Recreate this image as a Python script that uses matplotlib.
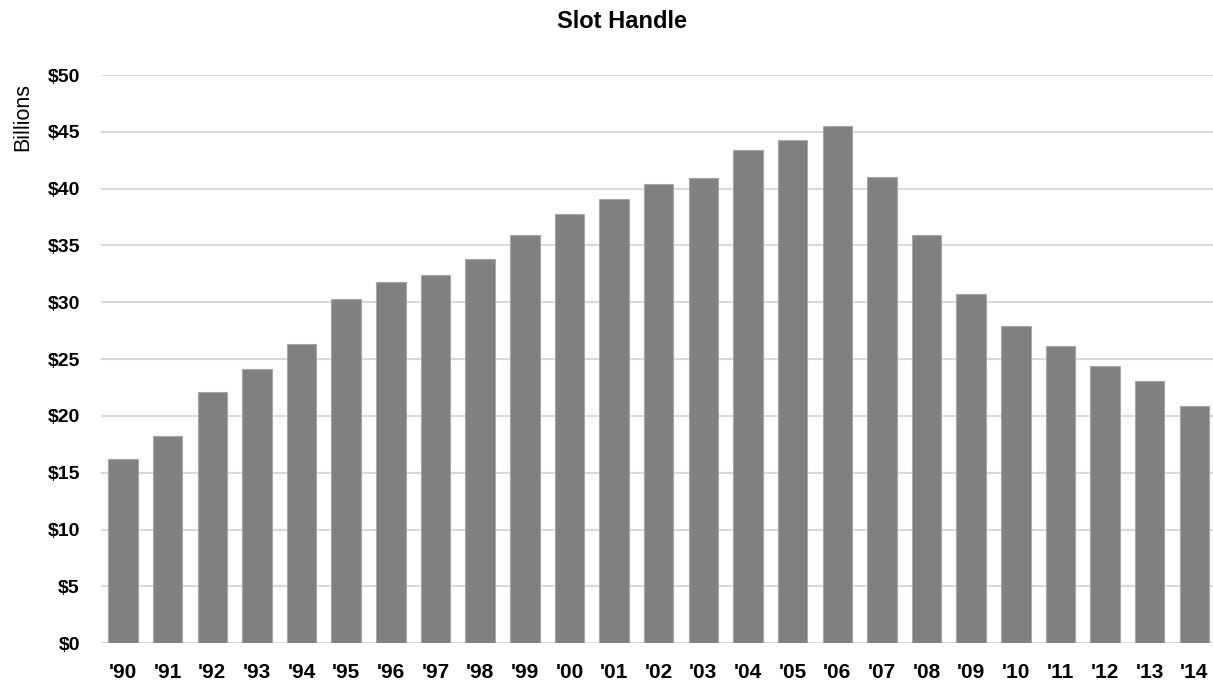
import matplotlib
matplotlib.use("Agg")
import matplotlib.pyplot as plt
from matplotlib.ticker import MultipleLocator, FuncFormatter

# data (billions of dollars)
years = ["'90", "'91", "'92", "'93", "'94", "'95", "'96", "'97", "'98", "'99",
         "'00", "'01", "'02", "'03", "'04", "'05", "'06", "'07", "'08", "'09",
         "'10", "'11", "'12", "'13", "'14"]
handle = [16.2, 18.2, 22.1, 24.1, 26.3, 30.3, 31.8, 32.4, 33.8, 35.9,
          37.8, 39.1, 40.4, 40.9, 43.4, 44.3, 45.5, 41.0, 35.9, 30.7,
          27.9, 26.2, 24.4, 23.1, 20.9]

plt.rcParams['font.family'] = ['Liberation Sans Narrow', 'Liberation Sans', 'DejaVu Sans']

fig = plt.figure(figsize=(12.13, 6.9), dpi=100)
ax = fig.add_axes([100.7 / 1213, 1 - 643.3 / 690, 1116 / 1213, 568.3 / 690])

x = range(len(years))
ax.bar(x, handle, width=0.66, color='#808080', edgecolor='#a6a6a6', linewidth=0.8, zorder=3)

ax.set_xlim(-0.5, len(years) - 0.5)
ax.set_ylim(0, 50)
ax.yaxis.set_major_locator(MultipleLocator(5))
ax.yaxis.set_major_formatter(FuncFormatter(lambda v, p: f"${v:.0f}"))
ax.set_xticks(list(x))
ax.set_xticklabels(years)

ax.grid(axis='y', color='#d9d9d9', linewidth=1.5, zorder=0)
for s in ax.spines.values():
    s.set_visible(False)
ax.tick_params(axis='both', length=0)
ax.tick_params(axis='y', pad=15, labelsize=14)
ax.tick_params(axis='x', pad=14, labelsize=15)
for lab in ax.get_xticklabels() + ax.get_yticklabels():
    lab.set_fontweight('bold')

fig.text(622 / 1213, 1 - 22 / 690, 'Slot Handle', ha='center', va='center',
         fontsize=17, fontweight='bold')
fig.text(23 / 1213, 1 - 117 / 690, 'Billions', ha='center', va='center',
         rotation=90, fontsize=15.5)

fig.savefig('out.png', dpi=100)
